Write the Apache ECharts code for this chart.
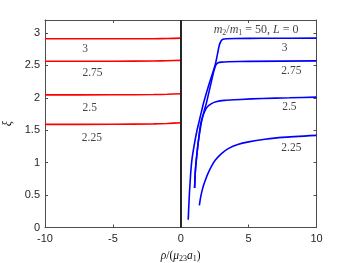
<!DOCTYPE html>
<html><head><meta charset="utf-8">
<script src="https://cdn.jsdelivr.net/npm/echarts@6/dist/echarts.min.js"></script>
<style>html,body{margin:0;padding:0;background:#fff}#c{width:350px;height:263px}</style>
</head><body><div id="c"></div>
<script>
// Red (rho<0) branches
const red3    = [[-10,2.91],[-5,2.91],[-2,2.912],[-1,2.915],[0,2.92]];
const red275  = [[-10,2.565],[-5,2.565],[-2,2.568],[-1,2.572],[0,2.578]];
const red25   = [[-10,2.045],[-5,2.047],[-2,2.05],[-1,2.055],[0,2.062]];
const red225  = [[-10,1.59],[-5,1.592],[-2,1.598],[-1,1.604],[0,1.615]];
// Blue (rho>0) branches
const blue3   = [[0.55,0.12],[0.62,0.45],[0.72,0.8],[0.82,1.04],[1.0,1.28],[1.2,1.5],[1.45,1.72],[1.68,1.92],[2.1,2.22],[2.55,2.52],[2.84,2.81],[2.98,2.88],[3.1,2.905],[3.4,2.912],[4,2.915],[6,2.918],[10,2.92]];
const blue275 = [[1.02,0.61],[1.07,0.85],[1.15,1.05],[1.28,1.3],[1.5,1.6],[1.7,1.78],[1.88,1.91],[2.2,2.2],[2.45,2.42],[2.6,2.51],[2.75,2.54],[3.0,2.55],[3.5,2.555],[5,2.562],[10,2.57]];
const blue25  = [[1.02,0.61],[1.07,0.85],[1.15,1.05],[1.28,1.3],[1.45,1.58],[1.6,1.7],[1.78,1.8],[2.0,1.87],[2.3,1.915],[2.6,1.94],[3.2,1.96],[4.4,1.975],[6,1.99],[8,2.0],[10,2.01]];
const blue225 = [[1.37,0.34],[1.45,0.45],[1.55,0.55],[1.68,0.65],[1.81,0.73],[2.0,0.83],[2.25,0.94],[2.55,1.04],[3.0,1.14],[3.53,1.22],[4.2,1.28],[5.0,1.32],[6.2,1.36],[7.47,1.39],[10,1.42]];
// Curve labels (data coords)
const labelsLeft  = [[-7.05,2.75,'3'],[-6.5,2.38,'2.75'],[-6.7,1.85,'2.5'],[-6.55,1.38,'2.25']];
const labelsRight = [[7.65,2.77,'3'],[8.15,2.41,'2.75'],[8.0,1.86,'2.5'],[8.15,1.23,'2.25']];
const annotPos = [5.55,3.05];

const chart = echarts.init(document.getElementById('c'), null, {renderer:'canvas'});
const axisCol = '#4d4d4d';
const serif = 'Liberation Serif';
function lineSeries(data,color){
  return {type:'line', data:data, showSymbol:false, smooth:0.2, lineStyle:{color:color,width:1.6}, silent:true, z:3};
}
function labelSeries(arr){
  return {type:'scatter', symbolSize:0, data:arr.map(a=>({value:[a[0],a[1]],name:a[2]})),
    label:{show:true, position:'inside', formatter:p=>p.name, fontFamily:serif, fontSize:11.5, color:'#111'}, silent:true, z:5};
}
chart.setOption({
  animation:false,
  grid:{left:45, right:33.5, top:20, bottom:35.5, containLabel:false, outerBoundsMode:'none'},
  xAxis:[{type:'value', min:-10, max:10, interval:5, position:'bottom',
    axisLine:{onZero:false, lineStyle:{color:axisCol,width:1}},
    axisTick:{inside:true, length:3, lineStyle:{color:axisCol}},
    splitLine:{show:false},
    axisLabel:{color:'#262626', fontFamily:'Liberation Sans', fontSize:11, margin:6, formatter:v=>String(v)},
    name:'{i|ρ}/({i|μ}{s|23}{i|a}{s|1})', nameLocation:'middle', nameGap:21,
    nameTextStyle:{fontFamily:serif, fontSize:11.5, color:'#111',
      rich:{i:{fontFamily:serif,fontStyle:'italic',fontSize:11.5,color:'#111'},
            s:{fontFamily:serif,fontSize:8,color:'#111',verticalAlign:'bottom',padding:[6,0,0,0]}}}},
    {type:'value', min:-10, max:10, interval:5, position:'top',
    axisLine:{onZero:false, lineStyle:{color:axisCol,width:1}},
    axisTick:{inside:true, length:3, lineStyle:{color:axisCol}},
    axisLabel:{show:false}, splitLine:{show:false}}],
  yAxis:[{type:'value', min:0, max:3.2, interval:0.5, position:'left',
    axisLine:{show:true, onZero:false, lineStyle:{color:axisCol,width:1}},
    axisTick:{show:true, inside:true, length:3, lineStyle:{color:axisCol}},
    splitLine:{show:false},
    axisLabel:{color:'#262626', fontFamily:'Liberation Sans', fontSize:11, margin:5, showMaxLabel:false},
    name:'ξ', nameLocation:'middle', nameGap:27, nameRotate:90,
    nameTextStyle:{fontFamily:serif, fontStyle:'italic', fontSize:12, color:'#111'}},
    {type:'value', min:0, max:3.2, interval:0.5, position:'right',
    axisLine:{show:true, onZero:false, lineStyle:{color:axisCol,width:1}},
    axisTick:{show:true, inside:true, length:3, lineStyle:{color:axisCol}},
    axisLabel:{show:false}, splitLine:{show:false}}],
  series:[
    lineSeries(red3,'#ff0000'), lineSeries(red275,'#ff0000'), lineSeries(red25,'#ff0000'), lineSeries(red225,'#ff0000'),
    lineSeries(blue3,'#0000ff'), lineSeries(blue275,'#0000ff'),
    lineSeries(blue25,'#0000ff'), lineSeries(blue225,'#0000ff'),
    {type:'line', data:[], silent:true,
      markLine:{symbol:'none', silent:true, label:{show:false},
        lineStyle:{color:'#262626', width:2, type:'solid'}, data:[{xAxis:0}]}},
    labelSeries(labelsLeft), labelSeries(labelsRight),
    {type:'scatter', symbolSize:0, data:[{value:annotPos}], silent:true, z:6,
      label:{show:true, position:'inside',
        formatter:'{i|m}{s|2}{n|/}{i|m}{s|1}{n| = 50, }{i|L}{n| = 0}',
        rich:{i:{fontFamily:serif,fontStyle:'italic',fontSize:12,color:'#111'},
              n:{fontFamily:serif,fontSize:12,color:'#111'},
              s:{fontFamily:serif,fontSize:8,color:'#111',verticalAlign:'bottom',padding:[6,0,0,0]}}}}
  ]
});
</script></body></html>
